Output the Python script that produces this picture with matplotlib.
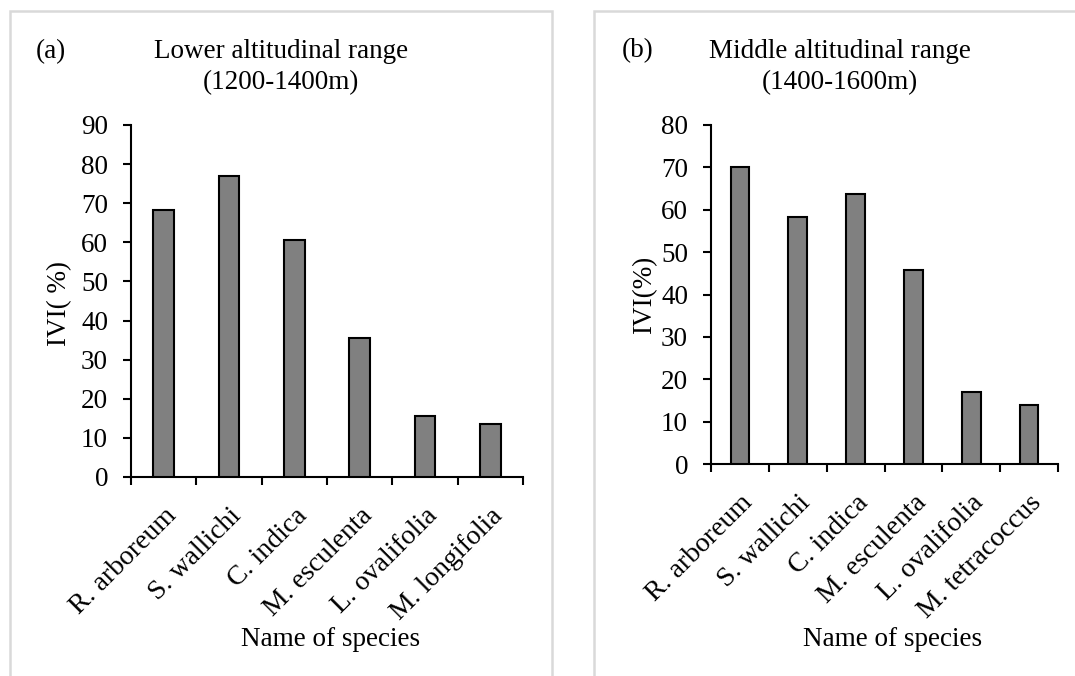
import matplotlib
matplotlib.use('Agg')
import matplotlib.pyplot as plt
from matplotlib.patches import Rectangle
import matplotlib.transforms as mtransforms
import numpy as np

plt.rcParams['font.family'] = ['Liberation Serif', 'DejaVu Serif']

# IVI values per species
species_lower = ['R. arboreum', 'S. wallichi', 'C. indica', 'M. esculenta',
                 'L. ovalifolia', 'M. longifolia']
ivi_lower = [68.2, 77.0, 60.5, 35.5, 15.7, 13.5]

species_middle = ['R. arboreum', 'S. wallichi', 'C. indica', 'M. esculenta',
                  'L. ovalifolia', 'M. tetracoccus']
ivi_middle = [70.0, 58.4, 63.8, 45.7, 17.0, 14.0]

W, H = 1075, 676
fs = 19.5

fig = plt.figure(figsize=(W / 100, H / 100), dpi=100)

# light grey frames around each panel
fig.patches.append(Rectangle((10 / W, -0.1), 542 / W, 1.1 - 11 / H, transform=fig.transFigure,
                             fill=False, edgecolor='#d9d9d9', linewidth=1.8))
fig.patches.append(Rectangle((594 / W, -0.1), 600 / W, 1.1 - 11 / H, transform=fig.transFigure,
                             fill=False, edgecolor='#d9d9d9', linewidth=1.8))


def draw_panel(rect, names, values, ymax, ylabel, ylab_pos, tag, tag_pos, title, title_x, xlab_x):
    ax = fig.add_axes(rect)
    x = np.arange(len(names)) + 0.5
    ax.bar(x, values, width=0.32, color='#808080', edgecolor='black', linewidth=1.5, zorder=3)
    ax.set_xlim(0, len(names))
    ax.set_ylim(0, ymax)
    ax.set_yticks(np.arange(0, ymax + 1, 10))
    ax.set_xticks(np.arange(0, len(names) + 1))
    ax.set_xticklabels([])
    ax.set_xticks(x, minor=True)
    labels = ax.set_xticklabels(names, minor=True, rotation=45, ha='right', va='top',
                                rotation_mode='anchor', fontsize=20)
    # nudge the rotated names a little to the right
    shift = mtransforms.ScaledTranslation(5 / 100, 0, fig.dpi_scale_trans)
    for lab in labels:
        lab.set_transform(lab.get_transform() + shift)
    ax.tick_params(axis='x', which='minor', length=0, pad=19)
    ax.tick_params(axis='x', which='major', length=5.5, width=1.5, direction='out')
    ax.tick_params(axis='y', length=5.5, width=1.5, direction='out', labelsize=fs, pad=11)
    for s in ['top', 'right']:
        ax.spines[s].set_visible(False)
    for s in ['left', 'bottom']:
        ax.spines[s].set_linewidth(1.5)
    ax.spines['bottom'].set_bounds(0, len(names))

    fig.text(ylab_pos[0] / W, 1 - ylab_pos[1] / H, ylabel, rotation=90,
             ha='center', va='center', fontsize=fs)
    fig.text(tag_pos[0] / W, 1 - tag_pos[1] / H, tag, ha='left', va='center', fontsize=fs)
    fig.text(title_x / W, 1 - 52 / H, title[0], ha='center', va='center', fontsize=fs)
    fig.text(title_x / W, 1 - 83 / H, title[1], ha='center', va='center', fontsize=fs)
    fig.text(xlab_x / W, 1 - 639 / H, 'Name of species', ha='center', va='center', fontsize=fs)
    return ax


draw_panel([131 / W, 1 - 477 / H, 392 / W, 352 / H], species_lower, ivi_lower, 90,
           'IVI( %)', (60, 303), '(a)', (36, 52),
           ('Lower altitudinal range', '(1200-1400m)'), 281, 331)
draw_panel([711 / W, 1 - 464 / H, 347 / W, 339 / H], species_middle, ivi_middle, 80,
           'IVI(%)', (645, 295), '(b)', (622, 51),
           ('Middle altitudinal range', '(1400-1600m)'), 840, 893)

fig.savefig('out.png', dpi=100)
